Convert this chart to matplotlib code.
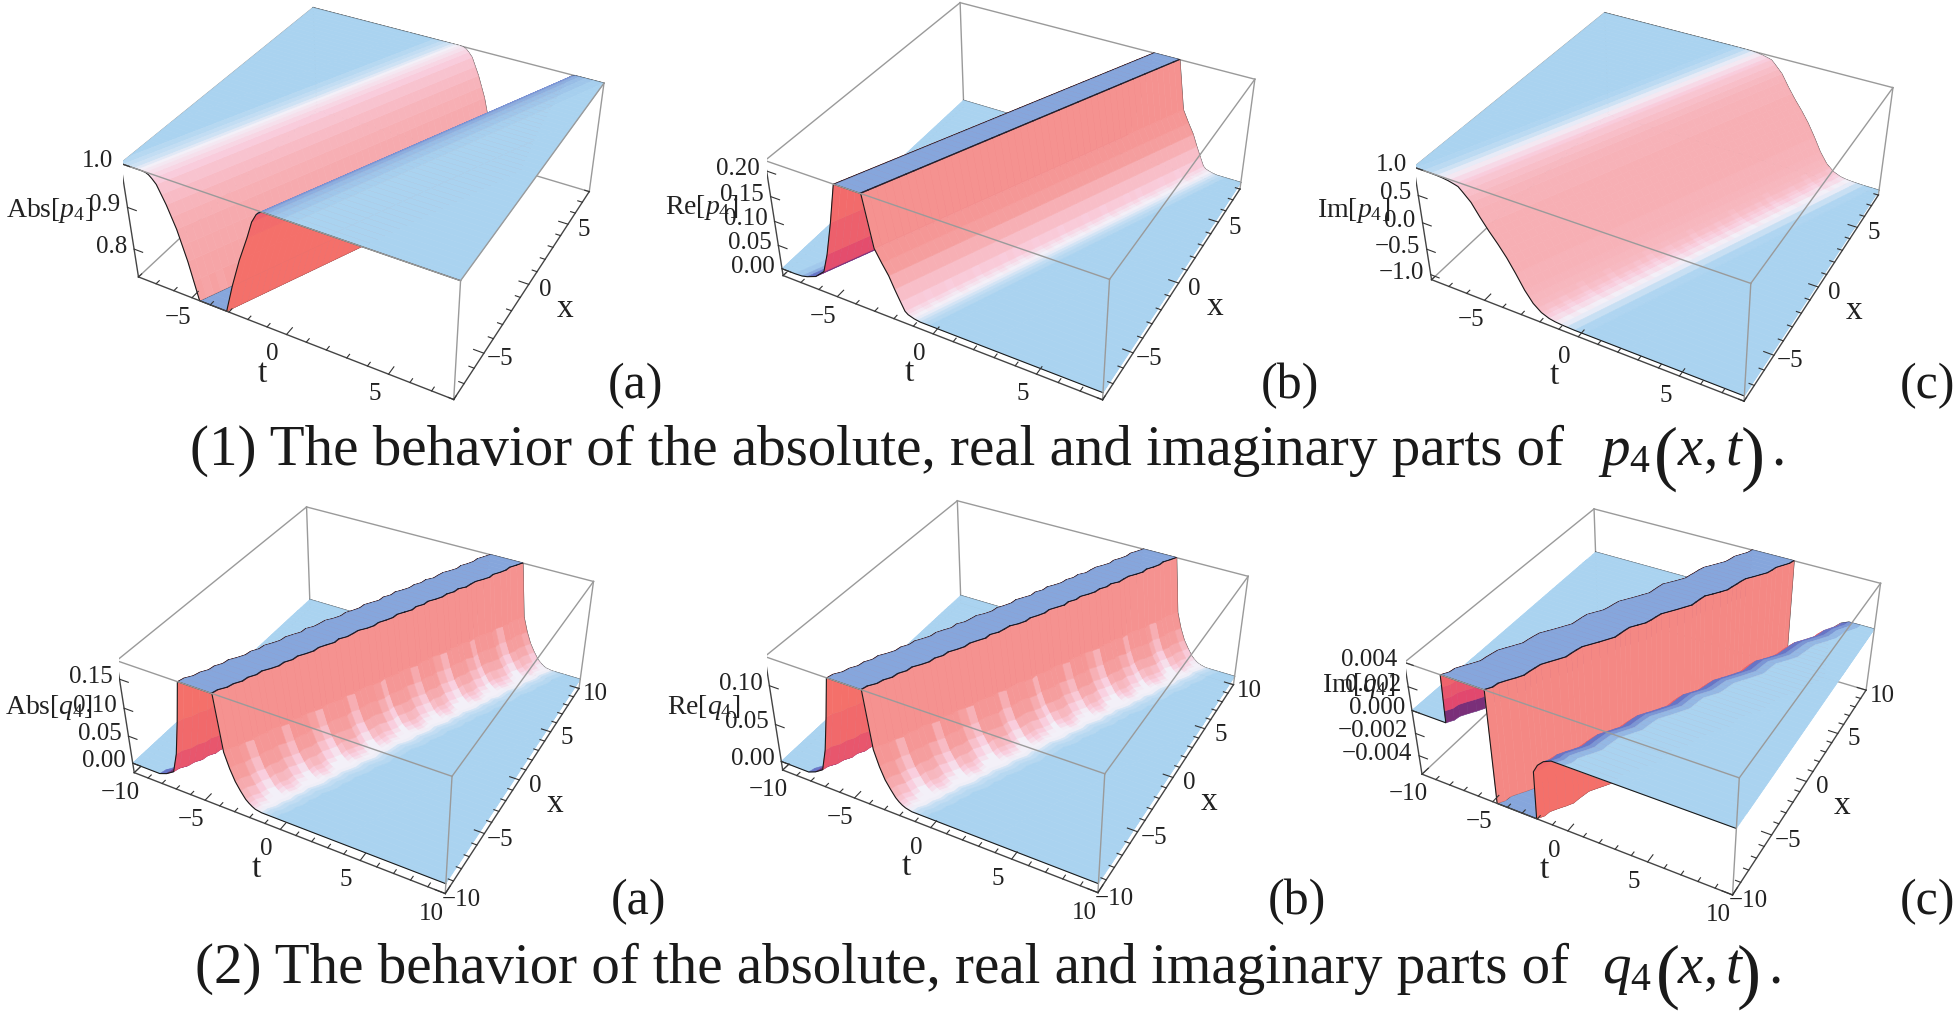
import numpy as np
import matplotlib
matplotlib.use('Agg')
from matplotlib import pyplot as plt
from matplotlib.colors import LinearSegmentedColormap
from mpl_toolkits.mplot3d import proj3d

plt.rcParams['font.family'] = ['Liberation Serif', 'DejaVu Serif']
plt.rcParams['mathtext.fontset'] = 'custom'
plt.rcParams['mathtext.rm'] = 'Liberation Serif'
plt.rcParams['mathtext.it'] = 'Liberation Serif:italic'

# cross sections of each surface, read along u = t - 0.46 x
u_pa = [-22, -12, -6, -4.6, -4.2, -3.9, -3.6, -3.4, -3.2, -3.0, -2.85, -2.7, -2.5, -2.3, -2.1, -1.9, -1.7, -1.5, -1.3, -1.1, -.9, .5, 1.0, 1.5, 2.0, 2.3, 2.55, 2.65, 2.75, 2.9, 3.1, 3.4, 3.8, 4.3, 6, 12, 22]
z_pa = [1, 1, 1, 1, 1, 1, 1, 1, 1, .999, .996, .99, .98, .96, .94, .915, .89, .855, .82, .775, .73, .73, .80, .87, .93, .97, .99, .995, .998, 1, 1, 1, 1, 1, 1, 1, 1]
tone_pa = [.5, .5, .5, .52, .54, .56, .59, .62, .65, .68, .72, .76, .8, .83, .86, .88, .9, .91, .92, .93, .40, 0, 0, 0, .02, .06, .33, .36, .39, .42, .45, .47, .49, .5, .5, .5]

u_pb = [-22, -12, -6, -3.6, -3.2, -2.9, -2.4, -1.9, -1.6, -1.2, -.8, .5, .97, 1.3, 1.6, 1.85, 2.1, 2.3, 2.45, 2.6, 2.75, 2.9, 3.05, 3.25, 3.5, 4, 6, 12, 22]
z_pb = [0, 0, 0, 0, .001, .004, .012, .03, .07, .14, .22, .22, .12, .095, .074, .05, .028, .011, .006, .004, .002, .001, 0, 0, 0, 0, 0, 0, 0]
tone_pb = [.5, .5, .5, .48, .42, .34, .24, .13, .06, .02, .40, .97, .96, .94, .88, .82, .77, .72, .68, .64, .6, .57, .54, .52, .5, .5, .5, .5]

u_pc = [-22, -12, -6, -4.2, -3.8, -3.4, -3.1, -2.8, -2.5, -2.2, -2, -1.8, -1.6, -1.4, -1.2, -1, -.8, -.6, -.4, -.2, 0, .2, .4, .6, .8, 1, 1.2, 1.4, 1.6, 1.8, 2, 2.2, 2.5, 2.8, 3.1, 3.5, 4, 6, 12, 22]
z_pc = [1, 1, 1, 1, .999, .997, .993, .985, .97, .945, .925, .86, .79, .72, .61, .5, .4, .3, .21, .12, .02, -.08, -.2, -.32, -.45, -.58, -.68, -.78, -.84, -.9, -.93, -.96, -.98, -.99, -.995, -1, -1, -1, -1, -1]
tone_pc = [.5, .5, .5, .51, .53, .56, .6, .65, .71, .76, .79, .82, .84, .86, .87, .87, .88, .88, .88, .88, .88, .88, .88, .87, .87, .86, .85, .84, .82, .79, .76, .71, .65, .6, .55, .51, .5, .5, .5]

u_qa = [-24, -14, -8, -4.2, -3.5, -3.0, -2.46, -2.1, -1.75, -1.4, .74, 1.2, 1.5, 1.8, 2.1, 2.4, 2.6, 2.8, 3.0, 3.2, 3.4, 3.6, 3.9, 4.3, 8, 14, 24]
z_qa = [0, 0, 0, 0, 0, .005, .014, .05, .11, .181, .181, .086, .06, .04, .026, .014, .009, .005, .002, .001, 0, 0, 0, 0, 0, 0, 0]
tone_qa = [.5, .5, .5, .5, .34, .26, .10, .03, 0, .40, .97, .96, .94, .9, .85, .8, .75, .7, .65, .61, .57, .54, .52, .5, .5, .5]

u_qb = [-24, -14, -8, -4.2, -3.5, -3.0, -2.46, -2.1, -1.75, -1.4, .74, 1.2, 1.5, 1.8, 2.1, 2.4, 2.6, 2.8, 3.0, 3.2, 3.4, 3.6, 3.9, 4.3, 8, 14, 24]
z_qb = [0, 0, 0, 0, 0, .004, .011, .04, .085, .136, .136, .065, .045, .03, .02, .011, .007, .004, .002, .001, 0, 0, 0, 0, 0, 0, 0]
tone_qb = [.5, .5, .5, .5, .34, .26, .10, .03, 0, .40, .97, .96, .94, .9, .85, .8, .75, .7, .65, .61, .57, .54, .52, .5, .5, .5]

u_qc = [-24, -14, -8, -3.6, -3.16, -3.15, -3.13, -3.11, -3.1, -.3, -.2, 2.4, 2.5, 2.8, 3.2, 3.7, 4.0, 4.5, 8, 14, 24]
z_qc = [0, 0, 0, 0, 0, .001, .002, .003, .004, .004, -.0057, -.0057, -.0015, -.0008, -.0003, 0, 0, 0, 0, 0, 0]
tone_qc = [.5, .5, .5, .5, .25, .15, .1, .05, .40, 1, .40, 0, .02, .05, .34, .38, .44, .5, .5, .5]

# streaks down the walls and wobble of the clipped edges, one value per row along x
streak_p = [.02, .05, .01, .06, .02, .04, .07,
            .01, .05, .03, .07, .02, .05, .01,
            .06, .03, .07, .02, .04, .06, .01,
            .05, .02, .07, .03, .05, .01, .06,
            .02, .04, .07, .01, .05, .03, .06,
            .02, .07, .04, .01, .05, .06, .02,
            .04, .07, .01, .05, .03, .06, .02]
streak_q = [.02, .1, .22, .34, .12, .02, .08,
            .2, .32, .1, .01, .1, .24, .35,
            .12, .02, .09, .2, .33, .1, .02,
            .1, .22, .34, .12, .02, .08, .2,
            .3, .1, .01, .1, .24, .35, .12,
            .02, .09, .2, .32, .1, .02, .1,
            .22, .33, .12, .02, .08, .2, .3]
wob_q = [.03, -.05, .07, 0, .09, -.03, .05,
         -.07, .04, .1, -.02, .06, -.06, .03,
         .08, -.04, .02, .1, -.05, .06, 0,
         -.08, .05, .09, -.03, .04, .07, -.06,
         .02, .1, -.04, .05, -.07, .03, .08,
         -.02, .06, -.05, .09, 0, -.06, .04,
         .1, -.03, .05, .07, -.05, .02, .06]
wob_qc = [.1, .18, .05, .12, .22, .28, .15,
          .05, -.05, .03, .12, .2, .08, -.02,
          -.1, 0, .1, .18, .26, .14, .02,
          -.08, .02, .12, .06, -.04, -.12, -.02,
          .08, .16, .24, .12, 0, -.1, .02,
          .12, .2, .1, .02, -.08, -.14, -.03,
          .06, .15, .08, -.02, .05, .12, .04]
flat_rows = [0] * 49

p_ticks = [-5, 0, 5]
q_ticks = [-10, -5, 0, 5, 10]
z_ticks_pa = [.8, .9, 1.0]
z_ticks_pb = [0, .05, .1, .15, .2]
z_ticks_pc = [-1, -.5, 0, .5, 1]
z_ticks_qa = [0, .05, .1, .15]
z_ticks_qb = [0, .05, .1]
z_ticks_qc = [-.004, -.002, 0, .002, .004]

cmap = LinearSegmentedColormap.from_list('surf', [
    (0, '#F4706A'), (.15, '#E2486E'), (.25, '#7A2E78'), (.32, '#5B63C0'), (.40, '#86A6DC'),
    (.5, '#A9D3F0'), (.62, '#F3F0F8'), (.75, '#F9CFDF'), (.92, '#F6A6A8'), (1, '#F48884')])

W_PX, H_PX = 1953, 1011
fig = plt.figure(figsize=(W_PX / 100, H_PX / 100), dpi=100)


def panel(s, tx, ty, lim, zlim, u, z, tone, streak, wob, caps, tick_t, tick_z, fmt):
    ax = fig.add_axes([0, 0, .2, .2], projection='3d', computed_zorder=False)
    ax.view_init(elev=36.11, azim=-61.67)
    ax.set_proj_type('persp', focal_length=.439)
    ax.set_box_aspect((1, 1.005, .4))
    ax.set_xlim(-lim, lim)
    ax.set_ylim(-lim, lim)
    ax.set_zlim(*zlim)
    ax.set_axis_off()
    ax.set_facecolor('none')
    vl = ax.viewLim
    ax.set_position([(tx + s * vl.x0) / W_PX, (ty + s * vl.y0) / H_PX, s * vl.width / W_PX, s * vl.height / H_PX])

    # thin dark strips on the clipped edges, so they hide behind nearer faces
    u = np.array(u, float)
    z = np.array(z, float)
    tone = np.array(tone, float)
    for c in sorted(caps, reverse=True):
        k = int(np.where(u == c)[0][0])
        u = np.insert(u, k + 1, u[k] + .06)
        z = np.insert(z, k + 1, z[k])
        tone = np.insert(tone, k, -1)

    x_rows = np.linspace(-lim, lim, len(streak))
    X = np.repeat(x_rows[:, None], len(u), axis=1)
    T = np.clip(u[None, :] + .46 * X + np.array(wob)[:, None], -lim, lim)
    Z = np.repeat(z[None, :], len(x_rows), axis=0)

    zfrac = (z[:-1] + z[1:]) / 2
    zfrac = (zfrac - z.min()) / (z.max() - z.min())
    fc = np.zeros((len(x_rows) - 1, len(u) - 1, 4))
    for i in range(len(x_rows) - 1):
        for j in range(len(u) - 1):
            if tone[j] < 0:
                fc[i, j] = (.1, .1, .15, 1)
            elif tone[j] >= .62:
                fc[i, j] = cmap(max(.62, tone[j] - max(0, .6 * streak[i] - .3 * zfrac[j])))
            else:
                fc[i, j] = cmap(tone[j])
    ax.plot(T[-1], X[-1], Z[-1], color='#1a1a1a', lw=.8, zorder=2)
    ax.plot_surface(T, X, Z, facecolors=fc, rstride=1, cstride=1, shade=False,
                    linewidth=.4, zorder=3)
    ax.plot(T[0], X[0], Z[0], color='#1a1a1a', lw=.8, zorder=4)

    z0, z1 = zlim
    box = '#9a9a9a'
    for a, b in [((-lim, -lim, z1), (-lim, lim, z1)), ((-lim, lim, z1), (lim, lim, z1)),
                 ((-lim, lim, z0), (-lim, lim, z1)), ((-lim, -lim, z0), (-lim, lim, z0)),
                 ((-lim, lim, z0), (lim, lim, z0))]:
        ax.plot(*zip(a, b), color=box, lw=1, zorder=1)
    for a, b in [((-lim, -lim, z1), (lim, -lim, z1)), ((lim, -lim, z1), (lim, lim, z1)),
                 ((lim, -lim, z0), (lim, -lim, z1)), ((lim, lim, z0), (lim, lim, z1))]:
        ax.plot(*zip(a, b), color=box, lw=1, zorder=5)
    for a, b in [((-lim, -lim, z0), (lim, -lim, z0)), ((lim, -lim, z0), (lim, lim, z0)),
                 ((-lim, -lim, z0), (-lim, -lim, z1))]:
        ax.plot(*zip(a, b), color='#444444', lw=1, zorder=5)

    # ticks
    tl = lim * .03
    for v in range(-int(lim), int(lim) + 1):
        m = 2 if v % 5 == 0 else 1
        ax.plot([v, v], [-lim, -lim + m * tl], [z0, z0], color='#333333', lw=.8, zorder=5)
        ax.plot([lim, lim - m * tl], [v, v], [z0, z0], color='#333333', lw=.8, zorder=5)
    for v in tick_z:
        ax.plot([-lim, -lim + 2 * tl], [-lim, -lim], [v, v], color='#333333', lw=.8, zorder=5)

    M = ax.get_proj()
    lab = dict(annotation_clip=False, textcoords='offset pixels', color='#222222', ha='center', va='center')
    for v in tick_t:
        a, b, _ = proj3d.proj_transform(v, -lim, z0, M)
        ax.annotate(str(v).replace('-', '\u2212'), (a, b), xytext=(-14, -20), fontsize=18, **lab)
        a, b, _ = proj3d.proj_transform(lim, v, z0, M)
        ax.annotate(str(v).replace('-', '\u2212'), (a, b), xytext=(16, -6), fontsize=18, **lab)
    for v in tick_z:
        a, b, _ = proj3d.proj_transform(-lim, -lim, v, M)
        lab_z = dict(lab, ha='right')
        ax.annotate((fmt % v).replace('-', '\u2212'), (a, b), xytext=(-7, 2), fontsize=18, **lab_z)
    a, b, _ = proj3d.proj_transform(0, -lim, z0, M)
    ax.annotate('t', (a, b), xytext=(-24, -39), fontsize=24, **lab)
    a, b, _ = proj3d.proj_transform(lim, 0, z0, M)
    ax.annotate('x', (a, b), xytext=(36, -24), fontsize=24, **lab)
    return ax


panel(2650.8, 374.5, 832.3, 8, (.73, 1.0), u_pa, z_pa, tone_pa, streak_p, flat_rows, [-.9, .5], p_ticks, z_ticks_pa, '%.1f')
panel(2686.6, 1022.3, 835.0, 8, (-.015, .22), u_pb, z_pb, tone_pb, streak_p, flat_rows, [-.8, .5], p_ticks, z_ticks_pb, '%.2f')
panel(2627.5, 1665.5, 828.7, 8, (-1.1, 1.0), u_pc, z_pc, tone_pc, streak_p, flat_rows, [], p_ticks, z_ticks_pc, '%.1f')
panel(2615.4, 367.1, 335.3, 10, (-.018, .181), u_qa, z_qa, tone_qa, streak_q, wob_q, [-1.4, .74], q_ticks, z_ticks_qa, '%.2f')
panel(2650.8, 1018.7, 339.2, 10, (-.012, .136), u_qb, z_qb, tone_qb, streak_q, wob_q, [-1.4, .74], q_ticks, z_ticks_qb, '%.2f')
panel(2611.4, 1654.5, 333.6, 10, (-.0057, .004), u_qc, z_qc, tone_qc, flat_rows, wob_qc, [-3.1, -.3, -.2, 2.4], q_ticks, z_ticks_qc, '%.3f')


def put(x, y, text, size):
    fig.text(x / W_PX, 1 - y / H_PX, text, fontsize=size, color='#1a1a1a', ha='left', va='baseline')


def zlabel(x, y, text):
    fig.text(x / W_PX, 1 - y / H_PX, text, fontsize=20, color='#222222', ha='center', va='center')


zlabel(50, 210, 'Abs[$p_4$]')
zlabel(702, 208, 'Re[$p_4$]')
zlabel(1354, 210, 'Im[$p_4$]')
zlabel(49, 707, 'Abs[$q_4$]')
zlabel(704, 707, 'Re[$q_4$]')
zlabel(1359, 685, 'Im[$q_4$]')

for x, y, s in [(608, 398, '(a)'), (1261, 398, '(b)'), (1900, 398, '(c)'),
                (611, 914, '(a)'), (1268, 914, '(b)'), (1900, 914, '(c)')]:
    put(x, y, s, 36)

put(190, 465, '(1) The behavior of the absolute, real and imaginary parts of', 41)
put(1598, 465, '$p_4$', 41)
put(1654, 477, '(', 52)
put(1677, 465, '$x,t$', 41)
put(1741, 477, ')', 52)
put(1771, 465, '.', 41)
put(195, 983, '(2) The behavior of the absolute, real and imaginary parts of', 41)
put(1602, 983, '$q_4$', 41)
put(1656, 995, '(', 52)
put(1677, 983, '$x,t$', 41)
put(1737, 995, ')', 52)
put(1768, 983, '.', 41)

fig.savefig('out.png', dpi=100)
